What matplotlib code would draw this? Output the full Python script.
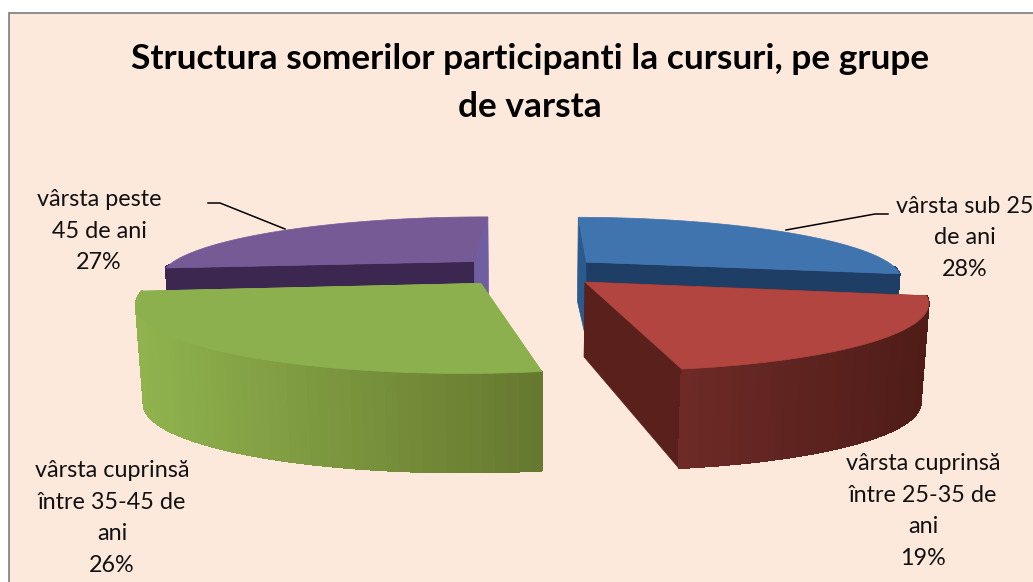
import numpy as np
import matplotlib
matplotlib.use('Agg')
import matplotlib.pyplot as plt
from matplotlib.colors import to_rgb
from matplotlib.patches import Polygon, Rectangle

title = 'Structura somerilor participanti la cursuri, pe grupe\nde varsta'
labels = ['vârsta sub 25\nde ani', 'vârsta cuprinsă\nîntre 25-35 de\nani',
          'vârsta cuprinsă\nîntre 35-45 de\nani', 'vârsta peste\n45 de ani']
values = [28, 19, 26, 27]

top_colors = ['#3f74ae', '#b2453f', '#8db04f', '#765a96']
cut_colors = ['#1f3e66', '#5a201c', '#6a7c33', '#3b2750']
back_cut_colors = ['#2b5a8e', '#5a201c', '#8db04f', '#6f5ea0']
rim_from = ['#1f3e66', '#4f1c18', '#66792f', '#3b2750']
rim_to = ['#1f3e66', '#6e2b27', '#90b34e', '#3b2750']
label_pos = [(965, 238), (923, 511), (112, 518), (99, 231)]
leaders = [[(786, 230), (875, 214), (888, 214)], [(285, 229), (220, 203), (208, 203)]]

# projection of the tilted pie onto the picture
cx, cy = 529, 271
sx, sy, persp = 313, 60, 0.25
explode = 0.245
rotation = np.radians(0.7)
rim_depth, apex_depth = 99, 75


def project(u, v, depth=0.0):
    w = 1 + persp * v
    shrink = 1 - 0.02 * depth / rim_depth
    return cx + shrink * sx * u / w, cy - sy * v / w + depth


fig = plt.figure(figsize=(10.33, 5.82), dpi=100, facecolor='white')
ax = fig.add_axes([0, 0, 1, 1])
ax.set_xlim(0, 1033)
ax.set_ylim(582, 0)
ax.axis('off')
plt.rcParams['font.family'] = ['Lato', 'DejaVu Sans']

ax.add_patch(Rectangle((9, 13), 1030, 575, facecolor='#fde9dc', edgecolor='#868686', lw=1.3))

edges = np.cumsum([0] + values) / sum(values) * 2 * np.pi + rotation

slices = []
for i in range(len(values)):
    a0, a1 = edges[i], edges[i + 1]
    mid = (a0 + a1) / 2
    ou, ov = explode * np.sin(mid), explode * np.cos(mid)
    ang = np.linspace(a0, a1, 60)
    slices.append((i, ou, ov, ang))

# back slices first, front slices over them
for i, ou, ov, ang in [slices[0], slices[3], slices[2], slices[1]]:
    rim_u = ou + np.sin(ang)
    rim_v = ov + np.cos(ang)

    # cut faces running from the apex to both ends of the arc
    for end, col in [(0, cut_colors[i] if i == 3 else back_cut_colors[i]),
                     (-1, cut_colors[i] if i in (0, 1) else back_cut_colors[i])]:
        d = rim_depth if rim_v[end] < 0.5 else rim_depth * 0.85
        face = [project(ou, ov), project(rim_u[end], rim_v[end]),
                project(rim_u[end], rim_v[end], d), project(ou, ov, apex_depth)]
        ax.add_patch(Polygon(face, closed=True, facecolor=col, edgecolor=col, lw=0.5))

    # curved outer wall, shaded strip by strip
    c0, c1 = np.array(to_rgb(rim_from[i])), np.array(to_rgb(rim_to[i]))
    tx = project(rim_u, rim_v)[0]
    for j in range(len(ang) - 1):
        t = (tx[j] - tx.min()) / (tx.max() - tx.min())
        t = 1 - t if i == 1 else t
        col = c0 + (c1 - c0) * (1 - t) if i == 2 else c0 + (c1 - c0) * t
        strip = [project(rim_u[j], rim_v[j]), project(rim_u[j + 1], rim_v[j + 1]),
                 project(rim_u[j + 1], rim_v[j + 1], rim_depth), project(rim_u[j], rim_v[j], rim_depth)]
        if rim_v[j] < 0.1:
            ax.add_patch(Polygon(strip, closed=True, facecolor=col, edgecolor=col, lw=0.8, antialiased=False))

    # top face
    pts = [project(ou, ov)] + [project(a, b) for a, b in zip(rim_u, rim_v)]
    ax.add_patch(Polygon(pts, closed=True, facecolor=top_colors[i], edgecolor=top_colors[i], lw=0.5))

for line in leaders:
    ax.plot([p[0] for p in line], [p[1] for p in line], color='black', lw=1.1)

for lab, val, pos in zip(labels, values, label_pos):
    ax.text(pos[0], pos[1], '%s\n%d%%' % (lab, val), ha='center', va='center', fontsize=16.8,
            color='#111111', linespacing=1.62, clip_on=True)

ax.text(530, 83, title, ha='center', va='center', fontsize=25.4, fontweight='bold',
        color='black', linespacing=1.58)

fig.savefig('out.png', dpi=100, facecolor='white')
